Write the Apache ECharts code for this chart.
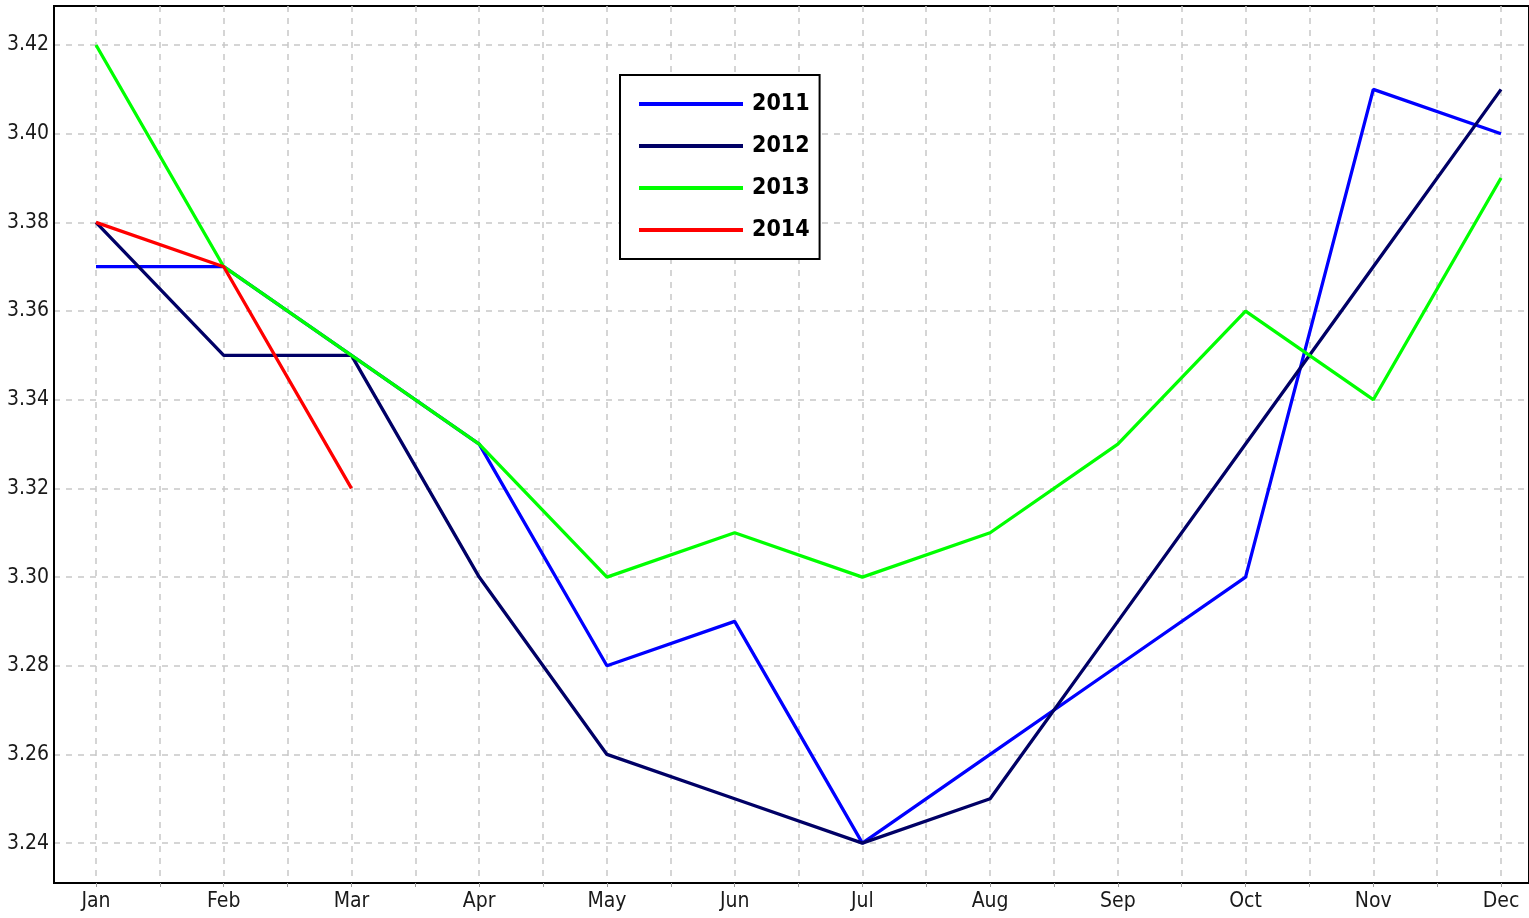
<!DOCTYPE html>
<html><head><meta charset="utf-8">
<script src="https://cdn.jsdelivr.net/npm/echarts@6/dist/echarts.min.js"></script>
<style>html,body{margin:0;padding:0;background:#fff}#c{width:1529px;height:918px}</style>
</head><body><div id="c"></div>
<script>
const months = ['Jan','Feb','Mar','Apr','May','Jun','Jul','Aug','Sep','Oct','Nov','Dec'];
const s2011 = [3.37,3.37,3.35,3.33,3.28,3.29,3.24,3.26,3.28,3.30,3.41,3.40];
const s2012 = [3.38,3.35,3.35,3.30,3.26,3.25,3.24,3.25,3.29,3.33,3.37,3.41];
const s2013 = [3.42,3.37,3.35,3.33,3.30,3.31,3.30,3.31,3.33,3.36,3.34,3.39];
const s2014 = [3.38,3.37,3.32];
const yTicks = [3.24,3.26,3.28,3.30,3.32,3.34,3.36,3.38,3.40,3.42];
const xGridValues = [1,1.5,2,2.5,3,3.5,4,4.5,5,5.5,6,6.5,7,7.5,8,8.5,9,9.5,10,10.5,11,11.5,12];
const xLabelValues = [1,2,3,4,5,6,7,8,9,10,11,12];

const FONT = "'Liberation Sans Narrow','DejaVu Sans Condensed','DejaVu Sans',sans-serif";
const toPts = arr => arr.map((v,i)=>[i+1,v]);
const chart = echarts.init(document.getElementById('c'), null, {renderer:'canvas'});
const mk = (name, data, color) => ({
  name, type:'line', data: toPts(data), symbol:'none', showSymbol:false,
  lineStyle:{color, width:3.3}, itemStyle:{color}, animation:false
});
chart.setOption({
  animation:false,
  backgroundColor:'#fff',
  grid:{left:54, right:0, top:6, bottom:35, show:true, borderColor:'#000', borderWidth:2, backgroundColor:'transparent'},
  xAxis:{
    type:'value', min:0.6712, max:12.219,
    axisLine:{show:true, lineStyle:{color:'#000', width:2}},
    axisTick:{show:true, customValues:xGridValues, length:4, lineStyle:{color:'#999'}},
    axisLabel:{customValues:xLabelValues, formatter:v=>months[Math.round(v)-1], fontFamily:FONT, fontWeight:'condensed', fontSize:21, color:'#1a1a1a', margin:8},
    splitLine:{show:true, lineStyle:{color:'#c8c8c8', width:1.5, type:[6,6]}}
  },
  yAxis:{
    type:'value', min:3.2310, max:3.4288,
    axisLine:{show:true, lineStyle:{color:'#000', width:2}},
    axisTick:{show:false, customValues:yTicks},
    axisLabel:{customValues:yTicks, formatter:v=>v.toFixed(2), fontFamily:FONT, fontWeight:'condensed', fontSize:21, color:'#1a1a1a', margin:5},
    splitLine:{show:true, lineStyle:{color:'#c8c8c8', width:1.5, type:[6,6]}}
  },
  legend:{
    orient:'vertical', left:620, top:75,
    backgroundColor:'#fff', borderColor:'#000', borderWidth:2,
    padding:[14,10,14,19], itemWidth:104, itemHeight:4, itemGap:12, icon:'rect',
    textStyle:{fontFamily:FONT, fontSize:23, fontWeight:'bold condensed', color:'#000', lineHeight:30, padding:[0,0,0,4]},
    data:['2011','2012','2013','2014']
  },
  series:[
    mk('2011', s2011, '#0000ff'),
    mk('2012', s2012, '#000066'),
    mk('2013', s2013, '#00ff00'),
    mk('2014', s2014, '#ff0000')
  ]
});
</script></body></html>
